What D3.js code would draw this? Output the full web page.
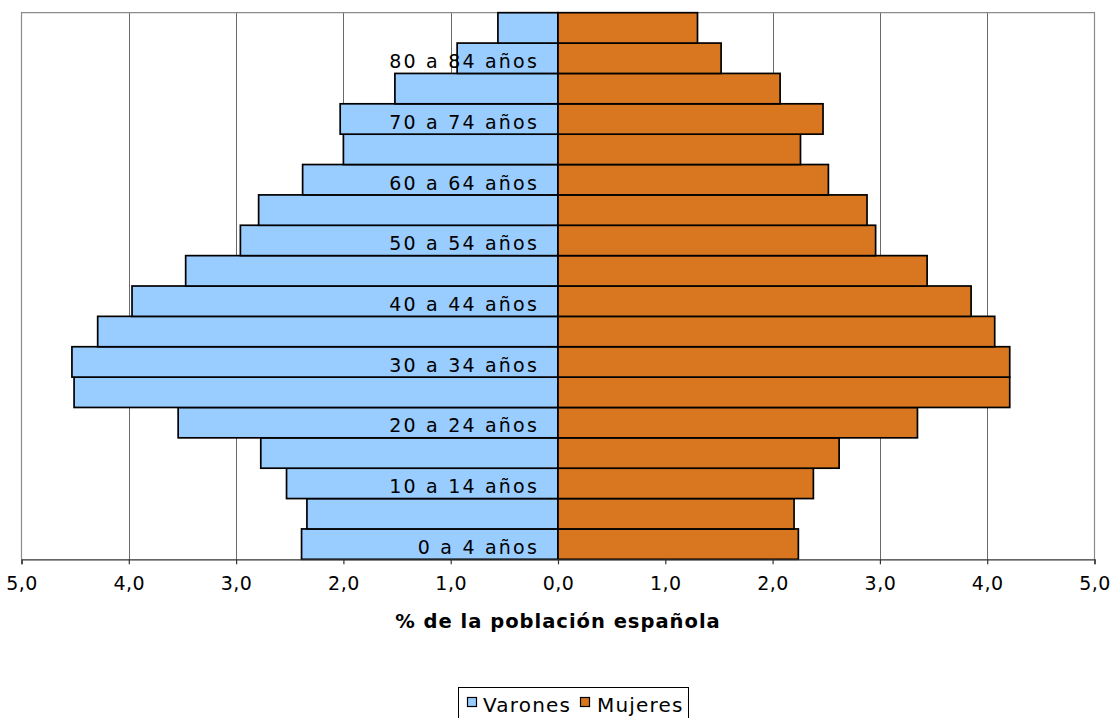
<!DOCTYPE html>
<html>
<head>
<meta charset="utf-8">
<script src="https://cdn.jsdelivr.net/npm/d3@7"></script>
<style>
  html, body { margin: 0; padding: 0; background: #fff; }
  svg { display: block; }
  text { font-family: "DejaVu Sans", Verdana, sans-serif; fill: #000; }
</style>
</head>
<body>
<svg id="chart" width="1114" height="718"></svg>
<script>
// Age groups, bottom to top
const categories = [
  "0 a 4 años", "5 a 9 años", "10 a 14 años", "15 a 19 años", "20 a 24 años",
  "25 a 29 años", "30 a 34 años", "35 a 39 años", "40 a 44 años", "45 a 49 años",
  "50 a 54 años", "55 a 59 años", "60 a 64 años", "65 a 69 años", "70 a 74 años",
  "75 a 79 años", "80 a 84 años", "85 y más años"
];
// % of Spanish population
const varones = [2.39, 2.34, 2.53, 2.77, 3.54, 4.51, 4.53, 4.29, 3.97, 3.47,
                 2.96, 2.79, 2.38, 2.00, 2.03, 1.52, 0.94, 0.56];
const mujeres = [2.24, 2.20, 2.38, 2.62, 3.35, 4.21, 4.21, 4.07, 3.85, 3.44,
                 2.96, 2.88, 2.52, 2.26, 2.47, 2.07, 1.52, 1.30];
const tickValues = [-5, -4, -3, -2, -1, 0, 1, 2, 3, 4, 5];
const seriesNames = ["Varones", "Mujeres"];
const seriesColors = ["#99CCFF", "#D97721"];
const axisTitle = "% de la población española";

const svg = d3.select("#chart");
const pLeft = 21.5, pRight = 1094.5, pTop = 12.7, pBottom = 559.3;

const x = d3.scaleLinear().domain([-5, 5]).range([pLeft, pRight]);
const y = d3.scaleBand().domain(categories.slice().reverse()).range([pTop, pBottom]).padding(0);

// gridlines
svg.append("g").selectAll("line")
  .data(tickValues.filter(t => t !== -5 && t !== 5 && t !== 0))
  .join("line")
  .attr("x1", d => Math.round(x(d)) + 0.5).attr("x2", d => Math.round(x(d)) + 0.5)
  .attr("y1", pTop).attr("y2", pBottom)
  .attr("stroke", "#6a6a6a").attr("stroke-width", 1);

// plot border (top, left, right)
svg.append("path")
  .attr("d", `M${pLeft},${pBottom}V${pTop}H${pRight}V${pBottom}`)
  .attr("fill", "none").attr("stroke", "#8c8c8c").attr("stroke-width", 1.2);

const rows = categories.map((c, i) => ({ c, v: varones[i], m: mujeres[i] }));

// Varones bars (left)
svg.append("g").selectAll("rect")
  .data(rows).join("rect")
  .attr("x", d => x(-d.v))
  .attr("y", d => y(d.c))
  .attr("width", d => x(0) - x(-d.v))
  .attr("height", y.bandwidth())
  .attr("fill", seriesColors[0])
  .attr("stroke", "#000").attr("stroke-width", 1.7);

// Mujeres bars (right)
svg.append("g").selectAll("rect")
  .data(rows).join("rect")
  .attr("x", x(0))
  .attr("y", d => y(d.c))
  .attr("width", d => x(d.m) - x(0))
  .attr("height", y.bandwidth())
  .attr("fill", seriesColors[1])
  .attr("stroke", "#000").attr("stroke-width", 1.7);

// bottom axis
const xAxis = d3.axisBottom(x)
  .tickValues(tickValues)
  .tickSize(5)
  .tickPadding(8)
  .tickFormat(d => d3.format(".1f")(Math.abs(d)).replace(".", ","));
const gx = svg.append("g").attr("transform", `translate(0,${pBottom})`).call(xAxis);
gx.select(".domain").attr("stroke", "#333").attr("stroke-width", 1.3);
gx.selectAll(".tick line").attr("stroke", "#333").attr("stroke-width", 1.2);
gx.selectAll(".tick text")
  .attr("font-size", 19)
  .attr("font-family", "DejaVu Sans, Verdana, sans-serif")
  .attr("fill", "#000")
  .attr("letter-spacing", 0.5)
  .attr("dy", "0.95em");

// category labels (every other one)
const yAxis = d3.axisLeft(y)
  .tickValues(categories.filter((c, i) => i % 2 === 0))
  .tickSize(0)
  .tickPadding(19);
const gy = svg.append("g").attr("transform", `translate(${x(0)},0)`).call(yAxis);
gy.select(".domain").remove();
gy.selectAll(".tick text")
  .attr("font-size", 19)
  .attr("font-family", "DejaVu Sans, Verdana, sans-serif")
  .attr("fill", "#000")
  .attr("letter-spacing", 2.2)
  .attr("dy", 9.8);

// axis title
svg.append("text")
  .attr("x", (pLeft + pRight) / 2)
  .attr("y", 628)
  .attr("text-anchor", "middle")
  .attr("font-size", 19.5)
  .attr("font-weight", "bold")
  .attr("letter-spacing", 1)
  .text(axisTitle);

// legend
const lg = svg.append("g");
lg.append("rect")
  .attr("x", 458.5).attr("y", 687.5).attr("width", 230).attr("height", 40)
  .attr("fill", "#fff").attr("stroke", "#000").attr("stroke-width", 1);
const legendX = [467, 580];
const legendTextX = [483, 597];
seriesNames.forEach((n, i) => {
  lg.append("rect")
    .attr("x", legendX[i] + 0.5).attr("y", 697.5).attr("width", 9).attr("height", 9)
    .attr("fill", seriesColors[i]).attr("stroke", "#000").attr("stroke-width", 1.2);
  lg.append("text")
    .attr("x", legendTextX[i]).attr("y", 711.5)
    .attr("font-size", 20).attr("letter-spacing", 1.2)
    .text(n);
});
</script>
</body>
</html>
